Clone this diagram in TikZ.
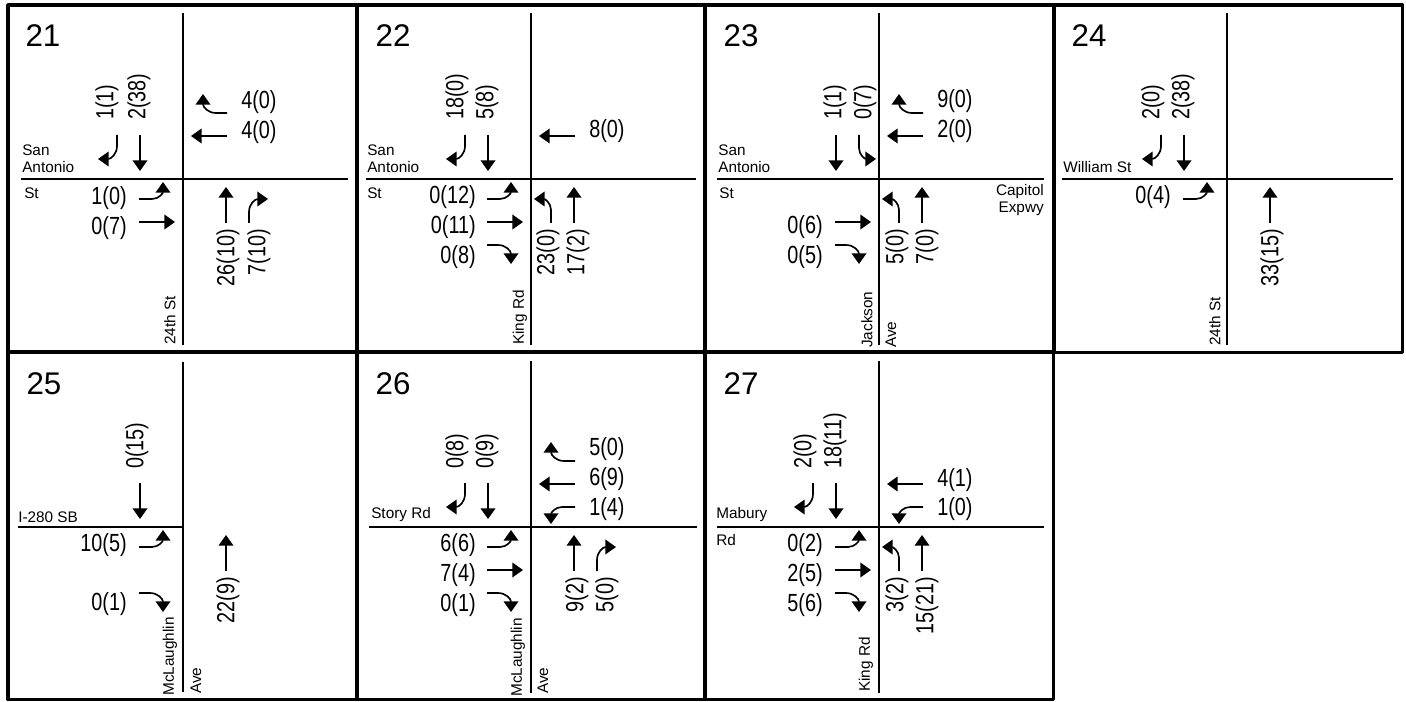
\documentclass[tikz,border=0pt]{standalone}
\usepackage{fontspec}
\setmainfont{Liberation Sans}
\newfontfamily\volfont[FakeStretch=0.8]{Liberation Sans}
\usetikzlibrary{arrows.meta}

\tikzset{
  flow/.style={line width=1.25pt, -{Triangle[length=8pt,width=11pt]}},
  eb/.style={rotate=0}, nb/.style={rotate=90}, wb/.style={rotate=180}, sb/.style={rotate=270},
  road/.style={line width=1.7pt},
  frame/.style={line width=2.8pt, line join=round},
  vol/.style={inner sep=0pt, font=\volfont\fontsize{18.6}{20}\selectfont},
  ebv/.style={vol, anchor=east},
  wbv/.style={vol, anchor=west},
  nbv/.style={vol, rotate=90, anchor=east},
  sbv/.style={vol, rotate=90, anchor=west},
  num/.style={inner sep=0pt, font=\fontsize{23.5}{26}\selectfont},
  lbl/.style={inner sep=0pt, anchor=west, align=left, font=\fontsize{11.5}{12.75}\selectfont},
  vlbl/.style={lbl, rotate=90}
}
% one movement of each kind, turned to its approach with eb, nb, wb, sb
\newcommand{\lmove}[1]{\draw[flow,#1] (-44,20) -- (-31,20) .. controls (-24,20) and (-20,14) .. (-20,3);}
\newcommand{\tmove}[1]{\draw[flow,#1] (-44,43) -- (-8,43);}
\newcommand{\rmove}[1]{\draw[flow,#1] (-44,66) -- (-33,66) .. controls (-25,66) and (-20,72) .. (-20,85);}

\begin{document}
\begin{tikzpicture}[x=0.75pt, y=-0.75pt]
  \useasboundingbox (0,0) rectangle (1406,702);

  % Panel frames
  \foreach \x/\y in {8/5,357/5,705/5,1054/5,8/352,357/352,705/352}
    \draw[frame] (\x,\y) rectangle ++(348.5,347.5);

  % Panel 21
  \begin{scope}[shift={(183,179)}]
    \draw[road] (0,-166) -- (0,166);
    \draw[road] (-162,0) -- (165,0);
    \node[num] (n21) at (-140,-143) {21};
    \node[lbl] (l21a) at (-161,-20) {San\\Antonio};
    \node[lbl] (l21b) at (-159,14) {St};
    \node[vlbl] (l21c) at (-13,166) {24th St};
    \lmove{eb} \tmove{eb}
    \rmove{wb} \tmove{wb}
    \tmove{nb} \rmove{nb}
    \rmove{sb} \tmove{sb}
    \node[ebv] (e21a) at (-56,19) {1(0)};
    \node[ebv] (e21b) at (-56,49) {0(7)};
    \node[wbv] (w21a) at (58,-77) {4(0)};
    \node[wbv] (w21b) at (58,-47) {4(0)};
    \node[nbv] (a21a) at (45,50) {26(10)};
    \node[nbv] (a21b) at (76,50) {7(10)};
    \node[sbv] (s21a) at (-76,-59) {1(1)};
    \node[sbv] (s21b) at (-44,-59) {2(38)};
  \end{scope}

  % Panel 22
  \begin{scope}[shift={(531,179)}]
    \draw[road] (0,-166) -- (0,166);
    \draw[road] (-165,0) -- (165,0);
    \node[num] (n22) at (-138,-143) {22};
    \node[lbl] (l22a) at (-164,-20) {San\\Antonio};
    \node[lbl] (l22b) at (-164,14) {St};
    \node[vlbl] (l22c) at (-11,166) {King Rd};
    \lmove{eb} \tmove{eb} \rmove{eb}
    \tmove{wb}
    \lmove{nb} \tmove{nb}
    \rmove{sb} \tmove{sb}
    \node[ebv] (e22a) at (-55,18) {0(12)};
    \node[ebv] (e22b) at (-55,48) {0(11)};
    \node[ebv] (e22c) at (-55,78) {0(8)};
    \node[wbv] (w22a) at (58,-48) {8(0)};
    \node[nbv] (a22a) at (17,50) {23(0)};
    \node[nbv] (a22b) at (47,50) {17(2)};
    \node[sbv] (s22a) at (-74,-59) {18(0)};
    \node[sbv] (s22b) at (-44,-59) {5(8)};
  \end{scope}

  % Panel 23
  \begin{scope}[shift={(879,179)}]
    \draw[road] (0,-166) -- (0,166);
    \draw[road] (-162,0) -- (165,0);
    \node[num] (n23) at (-138,-143) {23};
    \node[lbl] (l23a) at (-161,-20) {San\\Antonio};
    \node[lbl] (l23b) at (-160,14) {St};
    \node[lbl, align=right, anchor=east] (l23c) at (165,21) {Capitol\\Expwy};
    \node[vlbl] (l23d) at (-12,169) {Jackson};
    \node[vlbl] (l23e) at (12,169) {Ave};
    \tmove{eb} \rmove{eb}
    \rmove{wb} \tmove{wb}
    \lmove{nb} \tmove{nb}
    \tmove{sb} \lmove{sb}
    \node[ebv] (e23a) at (-56,48) {0(6)};
    \node[ebv] (e23b) at (-56,78) {0(5)};
    \node[wbv] (w23a) at (58,-78) {9(0)};
    \node[wbv] (w23b) at (58,-48) {2(0)};
    \node[nbv] (a23a) at (18,50) {5(0)};
    \node[nbv] (a23b) at (48,50) {7(0)};
    \node[sbv] (s23a) at (-44,-59) {1(1)};
    \node[sbv] (s23b) at (-14,-59) {0(7)};
  \end{scope}

  % Panel 24
  \begin{scope}[shift={(1227,179)}]
    \draw[road] (0,-166) -- (0,166);
    \draw[road] (-165,0) -- (166,0);
    \node[num] (n24) at (-138,-143) {24};
    \node[lbl] (l24a) at (-164,-12) {William St};
    \node[vlbl] (l24b) at (-12,167) {24th St};
    \lmove{eb}
    \tmove{nb}
    \rmove{sb} \tmove{sb}
    \node[ebv] (e24a) at (-56,18) {0(4)};
    \node[nbv] (a24a) at (45,50) {33(15)};
    \node[sbv] (s24a) at (-74,-59) {2(0)};
    \node[sbv] (s24b) at (-44,-59) {2(38)};
  \end{scope}

  % Panel 25
  \begin{scope}[shift={(183,527)}]
    \draw[road] (0,-165) -- (0,165);
    \draw[road] (-165,0) -- (0,0);
    \node[num] (n25) at (-139,-143) {25};
    \node[lbl] (l25a) at (-165,-10) {I-280 SB};
    \node[vlbl] (l25b) at (-13,169) {McLaughlin};
    \node[vlbl] (l25c) at (13,167) {Ave};
    \lmove{eb} \rmove{eb}
    \tmove{nb}
    \tmove{sb}
    \node[ebv] (e25a) at (-56,18) {10(5)};
    \node[ebv] (e25b) at (-56,77) {0(1)};
    \node[nbv] (a25a) at (45,50) {22(9)};
    \node[sbv] (s25a) at (-46,-58) {0(15)};
  \end{scope}

  % Panel 26
  \begin{scope}[shift={(531,527)}]
    \draw[road] (0,-166) -- (0,166);
    \draw[road] (-162,0) -- (166,0);
    \node[num] (n26) at (-138,-143) {26};
    \node[lbl] (l26a) at (-160,-12) {Story Rd};
    \node[vlbl] (l26b) at (-13,170) {McLaughlin};
    \node[vlbl] (l26c) at (12,167) {Ave};
    \lmove{eb} \tmove{eb} \rmove{eb}
    \rmove{wb} \tmove{wb} \lmove{wb}
    \tmove{nb} \rmove{nb}
    \rmove{sb} \tmove{sb}
    \node[ebv] (e26a) at (-55,18) {6(6)};
    \node[ebv] (e26b) at (-55,48) {7(4)};
    \node[ebv] (e26c) at (-55,78) {0(1)};
    \node[wbv] (w26a) at (58,-78) {5(0)};
    \node[wbv] (w26b) at (58,-48) {6(9)};
    \node[wbv] (w26c) at (58,-18) {1(4)};
    \node[nbv] (a26a) at (46,50) {9(2)};
    \node[nbv] (a26b) at (76,50) {5(0)};
    \node[sbv] (s26a) at (-74,-58) {0(8)};
    \node[sbv] (s26b) at (-44,-58) {0(9)};
  \end{scope}

  % Panel 27
  \begin{scope}[shift={(879,527)}]
    \draw[road] (0,-166) -- (0,166);
    \draw[road] (-162,0) -- (165,0);
    \node[num] (n27) at (-138,-143) {27};
    \node[lbl] (l27a) at (-163,-12) {Mabury};
    \node[lbl] (l27b) at (-163,13) {Rd};
    \node[vlbl] (l27c) at (-13,165) {King Rd};
    \lmove{eb} \tmove{eb} \rmove{eb}
    \tmove{wb} \lmove{wb}
    \lmove{nb} \tmove{nb}
    \rmove{sb} \tmove{sb}
    \node[ebv] (e27a) at (-56,18) {0(2)};
    \node[ebv] (e27b) at (-56,48) {2(5)};
    \node[ebv] (e27c) at (-56,78) {5(6)};
    \node[wbv] (w27a) at (58,-47) {4(1)};
    \node[wbv] (w27b) at (58,-18) {1(0)};
    \node[nbv] (a27a) at (18,50) {3(2)};
    \node[nbv] (a27b) at (48,50) {15(21)};
    \node[sbv] (s27a) at (-74,-58) {2(0)};
    \node[sbv] (s27b) at (-44,-58) {18(11)};
  \end{scope}
\end{tikzpicture}
\end{document}
